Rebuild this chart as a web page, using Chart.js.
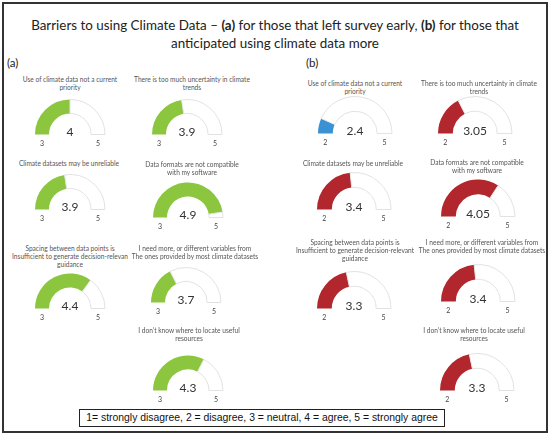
<!DOCTYPE html>
<html>
<head>
<meta charset="utf-8">
<script src="https://cdn.jsdelivr.net/npm/chart.js@4.4.1/dist/chart.umd.min.js"></script>
<style>
  body { margin: 0; background: #fff; width: 550px; height: 435px; overflow: hidden; position: relative; font-family: Lato, "Open Sans", sans-serif; }
  #frame { position: absolute; left: 2px; top: 2px; width: 542px; height: 427px; border: 2px solid #333; }
  .title { position: absolute; left: 0; width: 550px; text-align: center; font-size: 13.4px; color: #222; line-height: 18px; top: 16px; }
  .panel { position: absolute; font-size: 11.5px; color: #222; }
  .q { position: absolute; width: 160px; text-align: center; font-size: 6.6px; line-height: 8.2px; color: #555; white-space: nowrap; }
  .gauge { position: absolute; }
  #key { position: absolute; left: 79px; top: 409px; width: 364px; height: 16px; border: 1.5px solid #222;
         font-family: "Liberation Sans", Arial, sans-serif; font-size: 10.4px; line-height: 16px; text-align: center; color: #111; }
</style>
</head>
<body>
<div id="frame"></div>
<div class="title">Barriers to using Climate Data – <b>(a)</b> for those that left survey early, <b>(b)</b> for those that<br>anticipated using climate data more</div>
<div class="panel" style="left:7px;top:56px">(a)</div>
<div class="panel" style="left:306px;top:56px">(b)</div>
<div id="key">1= strongly disagree, 2 = disagree, 3 = neutral, 4 = agree, 5 = strongly agree</div>
<script>
// questions, same order in both panels
const questionsA = [
  ['Use of climate data not a current', 'priority'],
  ['There is too much uncertainty in climate', 'trends'],
  ['Climate datasets may be unreliable'],
  ['Data formats are not compatible', 'with my software'],
  ['Spacing between data points is', 'Insufficient to generate decision-relevan', 'guidance'],
  ['I need more, or different variables from', 'The ones provided by most climate datasets'],
  ['I don\u2019t know where to locate useful', 'resources']
];
const questionsB = [
  ['Use of climate data not a current', 'priority'],
  ['There is too much uncertainty in climate', 'trends'],
  ['Climate datasets may be unreliable'],
  ['Data formats are not compatible', 'with my software'],
  ['Spacing between data points is', 'Insufficient to generate decision-relevant', 'guidance'],
  ['I need more, or different variables from', 'The ones provided by most climate datasets'],
  ['I don\u2019t know where to locate useful', 'resources']
];

// mean scores
const scoresA = [4, 3.9, 3.9, 4.9, 4.4, 3.7, 4.3];
const scoresB = [2.4, 3.05, 3.4, 4.05, 3.3, 3.4, 3.3];

// gauge ends
const rangeA = [3, 5];
const rangeB = [2, 5];

// layout: gauge centre x, baseline y, question top y
const layoutA = [
  [70, 135, 75], [187, 135, 75],
  [70, 210, 159], [188, 218, 160],
  [70, 309, 244], [186, 303, 244],
  [188, 391, 326]
];
const layoutB = [
  [355, 134, 79], [475, 134, 79],
  [354, 210, 159], [478, 217, 158],
  [354, 309, 238], [478, 302, 238],
  [477, 391, 326]
];
const qCenterA = [70, 192, 69, 192, 70, 195, 189];
const qCenterB = [355, 479, 353, 477, 355, 482, 474];

const GREEN = '#8cc63f';
const RED = '#b2272d';
const BLUE = '#3a91d3';

const gaugeText = {
  id: 'gaugeText',
  afterDraw(chart, args, opts) {
    const arc = chart.getDatasetMeta(0).data[0];
    const p = arc.getProps(['x', 'y', 'outerRadius', 'innerRadius'], true);
    const mid = (p.outerRadius + p.innerRadius) / 2;
    const ctx = chart.ctx;
    ctx.save();
    ctx.textAlign = 'center';
    ctx.textBaseline = 'middle';
    ctx.fillStyle = '#333';
    ctx.font = '12px Lato';
    ctx.fillText(String(opts.value), p.x, p.y - 2);
    ctx.fillStyle = '#444';
    ctx.font = '7px Lato';
    ctx.fillText(String(opts.min), p.x - mid, p.y + 9);
    ctx.fillText(String(opts.max), p.x + mid, p.y + 9);
    ctx.restore();
  }
};

function addGauge(value, range, color, radius, pos) {
  const padX = 14, padTop = 2, padBottom = 16;
  const w = radius * 2 + padX * 2, h = radius + padTop + padBottom;
  const wrap = document.createElement('div');
  wrap.className = 'gauge';
  wrap.style.left = (pos[0] - w / 2) + 'px';
  wrap.style.top = (pos[1] - radius - padTop) + 'px';
  wrap.style.width = w + 'px';
  wrap.style.height = h + 'px';
  const cv = document.createElement('canvas');
  wrap.appendChild(cv);
  document.body.appendChild(wrap);

  new Chart(cv, {
    type: 'doughnut',
    data: {
      datasets: [{
        data: [value - range[0], range[1] - value],
        backgroundColor: [color, '#ffffff'],
        borderColor: [color, '#e2e2e2'],
        borderWidth: [0, 1]
      }]
    },
    options: {
      responsive: true,
      maintainAspectRatio: false,
      animation: false,
      rotation: -90,
      circumference: 180,
      cutout: '60%',
      layout: { padding: { left: padX, right: padX, top: padTop, bottom: padBottom } },
      plugins: {
        legend: { display: false },
        tooltip: { enabled: false },
        gaugeText: { value: value, min: range[0], max: range[1] }
      }
    },
    plugins: [gaugeText]
  });
}

function addQuestion(lines, cx, top) {
  const d = document.createElement('div');
  d.className = 'q';
  d.style.left = (cx - 80) + 'px';
  d.style.top = top + 'px';
  d.innerHTML = lines.join('<br>');
  document.body.appendChild(d);
}

scoresA.forEach((v, i) => {
  addQuestion(questionsA[i], qCenterA[i], layoutA[i][2]);
  addGauge(v, rangeA, GREEN, 36, layoutA[i]);
});
scoresB.forEach((v, i) => {
  addQuestion(questionsB[i], qCenterB[i], layoutB[i][2]);
  addGauge(v, rangeB, v < 3 ? BLUE : RED, 38, layoutB[i]);
});
</script>
</body>
</html>
